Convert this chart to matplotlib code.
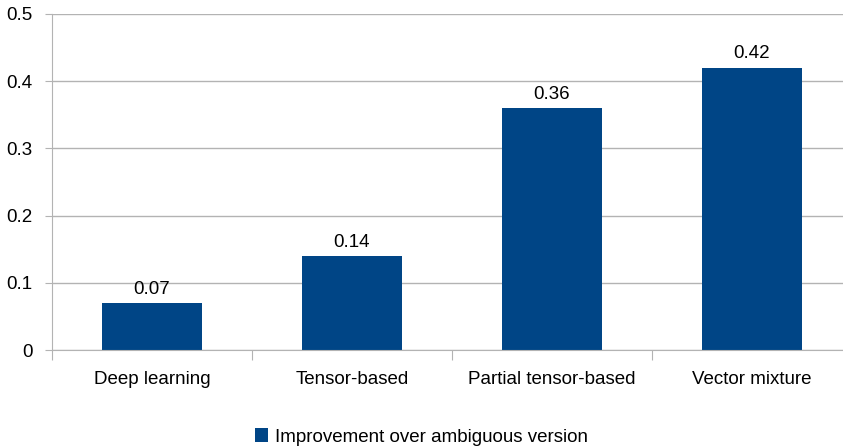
import matplotlib
matplotlib.use("Agg")
import matplotlib.pyplot as plt
from matplotlib.patches import Patch

categories = ["Deep learning", "Tensor-based", "Partial tensor-based", "Vector mixture"]
values = [0.07, 0.14, 0.36, 0.42]
series_name = "Improvement over ambiguous version"
yticks = [0, 0.1, 0.2, 0.3, 0.4, 0.5]
ytick_labels = ["0", "0.1", "0.2", "0.3", "0.4", "0.5"]

plt.rcParams['font.family'] = ['Liberation Sans', 'DejaVu Sans']
FS = 13.5
W, H = 843, 448
fig = plt.figure(figsize=(W/100, H/100), dpi=100)
left, right, top, bottom = 52, 852, 14, 350
ax = fig.add_axes([left/W, 1-bottom/H, (right-left)/W, (bottom-top)/H])
color = "#004586"
x = list(range(len(categories)))
ax.bar(x, values, width=0.5, color=color, zorder=3)
for xi, v in zip(x, values):
    ax.text(xi, v + 0.008, f"{v:g}", ha="center", va="bottom", fontsize=FS, color="#000000")
ax.set_xlim(-0.5, len(categories) - 0.5)
ax.set_ylim(0, 0.5)
ax.set_yticks(yticks)
ax.set_yticklabels(ytick_labels, fontsize=FS)
ax.set_xticks([i - 0.5 for i in range(len(categories) + 1)], minor=False)
ax.set_xticklabels([])
ax.set_xticks(x, minor=True)
ax.set_xticklabels(categories, minor=True, fontsize=FS)
ax.tick_params(axis="x", which="minor", length=0, pad=15)
ax.tick_params(axis="x", which="major", length=7, color="#b3b3b3")
ax.tick_params(axis="y", length=5, color="#b3b3b3", pad=9)
ax.yaxis.grid(True, color="#b3b3b3", linewidth=1, zorder=0)
for s in ["top", "right"]:
    ax.spines[s].set_visible(False)
for s in ["left", "bottom"]:
    ax.spines[s].set_color("#b3b3b3")
ax.spines["bottom"].set_zorder(4)
fig.legend(handles=[Patch(facecolor=color, label=series_name)], loc="center",
           bbox_to_anchor=(0.5, 1 - 437/H), frameon=False, fontsize=FS,
           handlelength=0.7, handleheight=0.7, handletextpad=0.4)
fig.savefig("out.png", dpi=100)
